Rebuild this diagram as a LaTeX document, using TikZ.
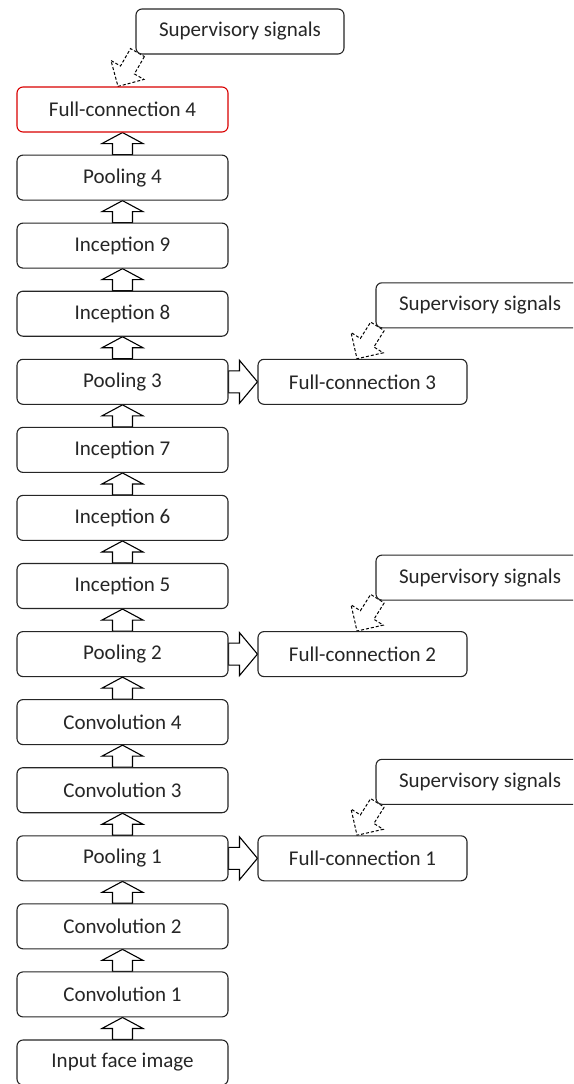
\documentclass[tikz,border=0pt]{standalone}
\usepackage{fontspec}
\setmainfont{Carlito}
\usetikzlibrary{calc,backgrounds}

\tikzset{
  layer/.style={draw=black!85, line width=1.1pt, rounded corners=6pt, fill=white,
    minimum width=211pt, minimum height=45pt, inner sep=0pt,
    text=black!85, font=\fontsize{21}{25}\selectfont},
  headlayer/.style={layer, draw=red!85!black},
  branch/.style={layer, minimum width=209pt},
  signal/.style={layer, minimum width=208pt},
  % hollow block arrow: #1 shaft half width, #2 head half width, #3 head length
  block/.style n args={3}{draw=black, line width=1.1pt, fill=white, line join=miter,
    to path={
      ($(\tikztostart)!#1!90:(\tikztotarget)$)
      -- ($(\tikztotarget)!#3!(\tikztostart)!#1!270:(\tikztostart)$)
      -- ($(\tikztotarget)!#3!(\tikztostart)!#2!270:(\tikztostart)$)
      -- (\tikztotarget)
      -- ($(\tikztotarget)!#3!(\tikztostart)!#2!90:(\tikztostart)$)
      -- ($(\tikztotarget)!#3!(\tikztostart)!#1!90:(\tikztostart)$)
      -- ($(\tikztostart)!#1!270:(\tikztotarget)$) -- cycle}},
  upflow/.style={block={10pt}{20.5pt}{11pt}},
  sideflow/.style={block={11pt}{21.5pt}{18pt}},
  supflow/.style={block={8pt}{19pt}{19pt}, dash pattern=on 3pt off 2pt, line width=1pt},
}

\begin{document}
\begin{tikzpicture}[x=1pt, y=-1pt]
  \useasboundingbox (0,0) rectangle (573,1084);
  \clip (0,0) rectangle (573,1084);

  % main stack
  \node[headlayer] (fc4)   at (122.5,109.5)  {Full-connection 4};
  \node[layer]     (pool4) at (122.5,177.6)  {Pooling 4};
  \node[layer]     (inc9)  at (122.5,245.6)  {Inception 9};
  \node[layer]     (inc8)  at (122.5,313.7)  {Inception 8};
  \node[layer]     (pool3) at (122.5,381.8)  {Pooling 3};
  \node[layer]     (inc7)  at (122.5,449.9)  {Inception 7};
  \node[layer]     (inc6)  at (122.5,517.9)  {Inception 6};
  \node[layer]     (inc5)  at (122.5,586.0)  {Inception 5};
  \node[layer]     (pool2) at (122.5,654.1)  {Pooling 2};
  \node[layer]     (conv4) at (122.5,722.1)  {Convolution 4};
  \node[layer]     (conv3) at (122.5,790.2)  {Convolution 3};
  \node[layer]     (pool1) at (122.5,858.3)  {Pooling 1};
  \node[layer]     (conv2) at (122.5,926.3)  {Convolution 2};
  \node[layer]     (conv1) at (122.5,994.4)  {Convolution 1};
  \node[layer]     (input) at (122.5,1062.5) {Input face image};

  % side branches
  \node[branch] (fc3) at (362.5,381.8) {Full-connection 3};
  \node[branch] (fc2) at (362.5,654.1) {Full-connection 2};
  \node[branch] (fc1) at (362.5,858.3) {Full-connection 1};

  % supervisory signals
  \node[signal] (sup4) at (240,31.5)  {Supervisory signals};
  \node[signal] (sup3) at (480,305.3) {Supervisory signals};
  \node[signal] (sup2) at (480,577.6) {Supervisory signals};
  \node[signal] (sup1) at (480,781.8) {Supervisory signals};

  \begin{scope}[on background layer]
    % forward flow through the stack
    \draw[upflow] (input.north) to (conv1.south);
    \draw[upflow] (conv1.north) to (conv2.south);
    \draw[upflow] (conv2.north) to (pool1.south);
    \draw[upflow] (pool1.north) to (conv3.south);
    \draw[upflow] (conv3.north) to (conv4.south);
    \draw[upflow] (conv4.north) to (pool2.south);
    \draw[upflow] (pool2.north) to (inc5.south);
    \draw[upflow] (inc5.north)  to (inc6.south);
    \draw[upflow] (inc6.north)  to (inc7.south);
    \draw[upflow] (inc7.north)  to (pool3.south);
    \draw[upflow] (pool3.north) to (inc8.south);
    \draw[upflow] (inc8.north)  to (inc9.south);
    \draw[upflow] (inc9.north)  to (pool4.south);
    \draw[upflow] (pool4.north) to (fc4.south);

    % branches
    \draw[sideflow] (pool3.east) to (fc3.west);
    \draw[sideflow] (pool2.east) to (fc2.west);
    \draw[sideflow] (pool1.east) to (fc1.west);

    % supervision
    \draw[supflow] ([shift={(2,-2)}]sup4.south west) to ([xshift=-4.5pt]fc4.north);
    \draw[supflow] ([shift={(2,-2)}]sup3.south west) to ([xshift=-5.5pt]fc3.north);
    \draw[supflow] ([shift={(2,-2)}]sup2.south west) to ([xshift=-5.5pt]fc2.north);
    \draw[supflow] ([shift={(2,-2)}]sup1.south west) to ([xshift=-5.5pt]fc1.north);
  \end{scope}
\end{tikzpicture}
\end{document}
